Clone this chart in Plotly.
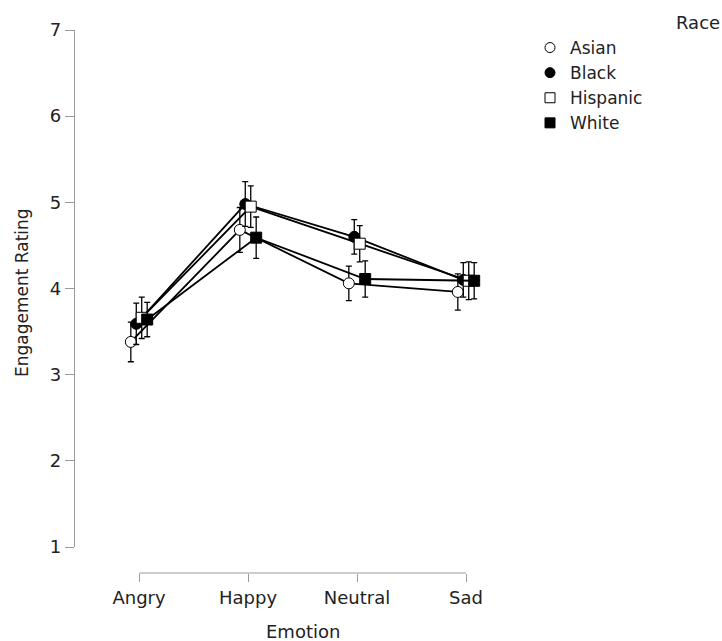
import plotly.graph_objects as go

# Mean engagement rating (with standard errors) by emotion and race
emotions = ["Angry", "Happy", "Neutral", "Sad"]
races = ["Asian", "Black", "Hispanic", "White"]

asian_mean = [3.38, 4.68, 4.06, 3.96]
asian_se = [0.23, 0.26, 0.20, 0.21]
black_mean = [3.59, 4.98, 4.60, 4.10]
black_se = [0.24, 0.26, 0.20, 0.20]
hispanic_mean = [3.66, 4.95, 4.52, 4.09]
hispanic_se = [0.24, 0.24, 0.21, 0.22]
white_mean = [3.64, 4.59, 4.11, 4.09]
white_se = [0.20, 0.24, 0.21, 0.21]

y_ticks = [1, 2, 3, 4, 5, 6, 7]

means = [asian_mean, black_mean, hispanic_mean, white_mean]
ses = [asian_se, black_se, hispanic_se, white_se]
symbols = ["circle", "circle", "square", "square"]
fills = ["white", "black", "white", "black"]
dodge = [-0.075, -0.025, 0.025, 0.075]

FONT = "DejaVu Sans"
AXIS_GREY = "#9a9a9a"
TEXT = "#222222"

fig = go.Figure()
base_x = list(range(len(emotions)))
for race, m, s, sym, fc, dx in zip(races, means, ses, symbols, fills, dodge):
    fig.add_trace(go.Scatter(
        x=[v + dx for v in base_x],
        y=m,
        name=race,
        legendgroup=race,
        showlegend=False,
        mode="lines+markers",
        line=dict(color="black", width=1.8),
        marker=dict(symbol=sym, size=11, color=fc,
                    line=dict(color="black", width=1)),
        error_y=dict(type="data", array=s, visible=True,
                     color="black", thickness=1.3, width=3),
        cliponaxis=False,
    ))

# marker-only legend keys
for race, sym, fc in zip(races, symbols, fills):
    fig.add_trace(go.Scatter(
        x=[None], y=[None], name=race, legendgroup=race,
        mode="markers",
        marker=dict(symbol=sym, size=10, color=fc,
                    line=dict(color="black", width=1)),
    ))

# x-axis baseline spanning the first to last category only
fig.add_shape(type="line", xref="x", yref="paper",
              x0=base_x[0], x1=base_x[-1], y0=0, y1=0,
              line=dict(color=AXIS_GREY, width=1.2))

PW = 722 - 74  # paper width in px

fig.update_layout(
    width=722, height=641,
    margin=dict(l=74, r=0, t=30, b=68),
    plot_bgcolor="white", paper_bgcolor="white",
    font=dict(family=FONT, size=18, color=TEXT),
    showlegend=True,
    legend=dict(x=(530 - 74) / PW, y=1.0, xanchor="left", yanchor="top",
                font=dict(size=17, color=TEXT),
                itemwidth=30, tracegroupgap=0,
                bgcolor="rgba(0,0,0,0)"),
    xaxis=dict(
        domain=[(84.5 - 74) / PW, (520.5 - 74) / PW],
        range=[-0.5, 3.5],
        anchor="free", position=0,
        tickmode="array", tickvals=base_x, ticktext=emotions,
        showline=False, showgrid=False, zeroline=False,
        ticks="outside", ticklen=8, tickwidth=1.2, tickcolor=AXIS_GREY,
        tickfont=dict(size=18, color=TEXT),
    ),
    yaxis=dict(
        domain=[26 / 543, 1.0],
        range=[1, 7],
        anchor="free", position=0,
        tickmode="array", tickvals=y_ticks,
        showline=True, linecolor=AXIS_GREY, linewidth=1.2,
        showgrid=False, zeroline=False,
        ticks="outside", ticklen=9, tickwidth=1.2, tickcolor=AXIS_GREY,
        tickfont=dict(size=18, color=TEXT),
    ),
    annotations=[
        dict(text="Emotion", xref="x", yref="paper", x=1.5, y=-0.107,
             xanchor="center", yanchor="middle", showarrow=False,
             font=dict(size=18, color=TEXT)),
        dict(text="Engagement Rating", xref="paper", yref="paper",
             x=-52 / PW, y=(573 - 293) / 543, textangle=-90,
             xanchor="center", yanchor="middle", showarrow=False,
             font=dict(size=17, color=TEXT)),
        dict(text="Race", xref="paper", yref="paper",
             x=1.0, y=(573 - 22) / 543, xanchor="right", yanchor="middle",
             showarrow=False, font=dict(size=18, color=TEXT)),
    ],
)

fig.write_html("out.html")
